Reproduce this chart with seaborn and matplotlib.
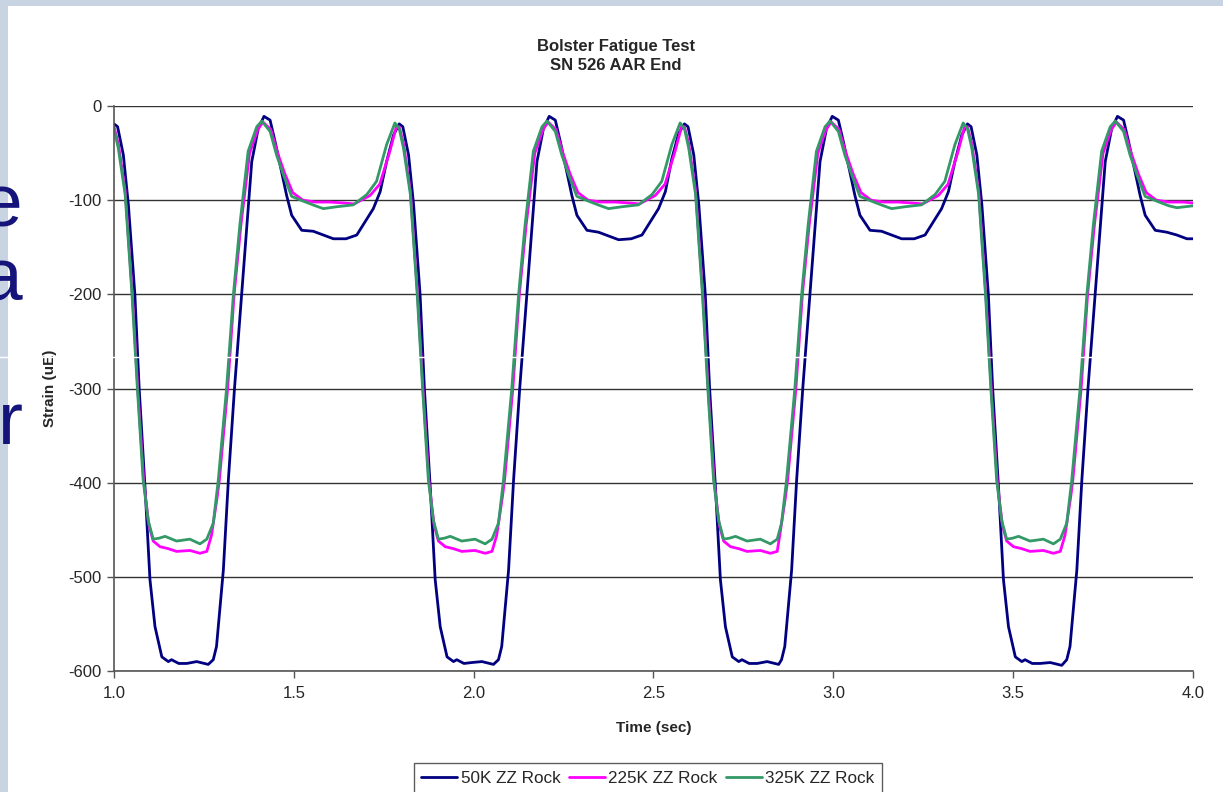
import matplotlib
matplotlib.use('Agg')
import matplotlib.pyplot as plt
import seaborn as sns
import pandas as pd
from matplotlib.patches import Rectangle
from matplotlib.lines import Line2D

# Values (time in sec, strain in uE)
t_50k = [
    1.000, 1.010, 1.026, 1.040, 1.058, 1.070, 1.087, 1.100, 1.114, 1.133, 1.151, 1.160, 1.180, 1.202, 1.230,
    1.262, 1.276, 1.285, 1.295, 1.304, 1.318, 1.335, 1.355, 1.369, 1.383, 1.401, 1.417, 1.434, 1.448, 1.466,
    1.480, 1.494, 1.522, 1.554, 1.582, 1.610, 1.645, 1.675, 1.693, 1.721, 1.740, 1.758, 1.777,
    1.793, 1.803, 1.819, 1.833, 1.851, 1.863, 1.880, 1.893, 1.907, 1.926, 1.944, 1.953, 1.973, 1.995, 2.023,
    2.055, 2.069, 2.078, 2.088, 2.097, 2.111, 2.128, 2.148, 2.162, 2.176, 2.194, 2.210, 2.227, 2.241, 2.259,
    2.273, 2.287, 2.315, 2.347, 2.375, 2.403, 2.438, 2.468, 2.486, 2.514, 2.533, 2.551, 2.570,
    2.586, 2.596, 2.612, 2.626, 2.644, 2.656, 2.673, 2.686, 2.700, 2.719, 2.737, 2.746, 2.766, 2.788, 2.816,
    2.848, 2.856, 2.865, 2.875, 2.884, 2.898, 2.915, 2.935, 2.949, 2.963, 2.981, 2.997, 3.014, 3.028, 3.046,
    3.060, 3.074, 3.102, 3.134, 3.162, 3.190, 3.225, 3.255, 3.273, 3.301, 3.320, 3.338, 3.357,
    3.373, 3.383, 3.399, 3.413, 3.431, 3.443, 3.460, 3.473, 3.487, 3.506, 3.524, 3.533, 3.553, 3.575, 3.603,
    3.635, 3.649, 3.658, 3.668, 3.677, 3.691, 3.708, 3.728, 3.742, 3.756, 3.774, 3.790, 3.807, 3.821, 3.839,
    3.853, 3.867, 3.895, 3.927, 3.955, 3.983, 4.000,
]
strain_50k = [
    -19, -22, -52, -105, -200, -300, -410, -503, -553, -585, -590, -588, -592, -592, -590,
    -593, -588, -574, -532, -493, -397, -300, -200, -130, -59, -24, -11, -15, -38, -70,
    -95, -116, -132, -133, -137, -141, -141, -137, -126, -109, -91, -59, -31,
    -19, -22, -52, -105, -200, -300, -410, -503, -553, -585, -590, -588, -592, -591, -590,
    -593, -588, -574, -532, -493, -397, -300, -200, -130, -59, -24, -11, -15, -38, -70,
    -95, -116, -132, -134, -138, -142, -141, -137, -126, -109, -91, -56, -29,
    -19, -22, -52, -105, -200, -300, -410, -503, -553, -585, -590, -588, -592, -592, -590,
    -593, -588, -574, -532, -493, -397, -300, -200, -130, -59, -24, -11, -15, -38, -70,
    -95, -116, -132, -133, -137, -141, -141, -137, -126, -109, -91, -59, -31,
    -19, -22, -52, -105, -200, -300, -410, -503, -553, -585, -590, -588, -592, -592, -591,
    -594, -588, -574, -532, -493, -397, -300, -200, -130, -59, -24, -11, -15, -38, -70,
    -95, -116, -132, -134, -137, -141, -141,
]

t_225k = [
    1.000, 1.012, 1.031, 1.051, 1.066, 1.083, 1.097, 1.109, 1.128, 1.150, 1.174, 1.211, 1.239, 1.258, 1.271,
    1.287, 1.293, 1.316, 1.334, 1.353, 1.377, 1.400, 1.414, 1.436, 1.455, 1.475, 1.497, 1.525, 1.560, 1.600,
    1.640, 1.668, 1.712, 1.739, 1.767, 1.785,
    1.793, 1.805, 1.824, 1.844, 1.859, 1.876, 1.890, 1.902, 1.921, 1.943, 1.967, 2.004, 2.032, 2.051, 2.064,
    2.080, 2.086, 2.109, 2.127, 2.146, 2.170, 2.193, 2.207, 2.229, 2.248, 2.268, 2.290, 2.318, 2.353, 2.393,
    2.433, 2.461, 2.505, 2.532, 2.560, 2.578,
    2.586, 2.598, 2.617, 2.637, 2.652, 2.669, 2.683, 2.695, 2.714, 2.736, 2.760, 2.797, 2.825, 2.844, 2.851,
    2.867, 2.873, 2.896, 2.914, 2.933, 2.957, 2.980, 2.994, 3.016, 3.035, 3.055, 3.077, 3.105, 3.140, 3.180,
    3.220, 3.248, 3.292, 3.319, 3.347, 3.365,
    3.373, 3.385, 3.404, 3.424, 3.439, 3.456, 3.470, 3.482, 3.501, 3.523, 3.547, 3.584, 3.612, 3.631, 3.644,
    3.660, 3.666, 3.689, 3.707, 3.726, 3.750, 3.773, 3.787, 3.809, 3.828, 3.848, 3.870, 3.898, 3.933, 3.973,
    4.000,
]
strain_225k = [
    -22, -40, -90, -200, -300, -400, -445, -462, -468, -470, -473, -472, -475, -473, -456,
    -415, -397, -300, -200, -126, -50, -25, -17, -25, -50, -72, -92, -100, -102, -102,
    -103, -104, -95, -83, -48, -22,
    -22, -40, -90, -200, -300, -400, -445, -462, -468, -470, -473, -472, -475, -473, -456,
    -415, -397, -300, -200, -126, -50, -25, -17, -25, -50, -72, -92, -100, -102, -102,
    -103, -104, -95, -83, -48, -22,
    -22, -40, -90, -200, -300, -400, -445, -462, -468, -470, -473, -472, -475, -473, -456,
    -415, -397, -300, -200, -126, -50, -25, -17, -25, -50, -72, -92, -100, -102, -102,
    -103, -104, -95, -83, -48, -22,
    -22, -40, -90, -200, -300, -400, -445, -462, -468, -470, -473, -472, -475, -473, -456,
    -415, -397, -300, -200, -126, -50, -25, -17, -25, -50, -72, -92, -100, -102, -102,
    -103,
]

t_325k = [
    1.000, 1.012, 1.031, 1.050, 1.065, 1.081, 1.095, 1.109, 1.125, 1.142, 1.174, 1.211, 1.239, 1.258, 1.276,
    1.290, 1.313, 1.332, 1.350, 1.373, 1.397, 1.411, 1.434, 1.452, 1.471, 1.494, 1.526, 1.560, 1.582, 1.619,
    1.665, 1.703, 1.730, 1.758, 1.781,
    1.793, 1.805, 1.824, 1.843, 1.858, 1.874, 1.888, 1.902, 1.918, 1.935, 1.967, 2.004, 2.032, 2.051, 2.069,
    2.083, 2.106, 2.125, 2.143, 2.166, 2.190, 2.204, 2.227, 2.245, 2.264, 2.287, 2.319, 2.353, 2.375, 2.412,
    2.458, 2.496, 2.523, 2.551, 2.574,
    2.586, 2.598, 2.617, 2.636, 2.651, 2.667, 2.681, 2.695, 2.711, 2.728, 2.760, 2.797, 2.825, 2.844, 2.856,
    2.870, 2.893, 2.912, 2.930, 2.953, 2.977, 2.991, 3.014, 3.032, 3.051, 3.074, 3.106, 3.140, 3.162, 3.199,
    3.245, 3.283, 3.310, 3.338, 3.361,
    3.373, 3.385, 3.404, 3.423, 3.438, 3.454, 3.468, 3.482, 3.498, 3.515, 3.547, 3.584, 3.612, 3.631, 3.649,
    3.663, 3.686, 3.705, 3.723, 3.746, 3.770, 3.784, 3.807, 3.825, 3.844, 3.867, 3.899, 3.933, 3.955, 4.000,
]
strain_325k = [
    -24, -45, -94, -200, -300, -397, -440, -460, -459, -457, -462, -460, -465, -460, -443,
    -397, -300, -200, -126, -48, -22, -16, -27, -52, -73, -96, -101, -106, -109, -107,
    -105, -94, -80, -41, -18,
    -24, -45, -94, -200, -300, -397, -440, -460, -459, -457, -462, -460, -465, -460, -443,
    -397, -300, -200, -126, -48, -22, -16, -27, -52, -73, -96, -101, -106, -109, -107,
    -105, -94, -80, -41, -18,
    -24, -45, -94, -200, -300, -397, -440, -460, -459, -457, -462, -460, -465, -460, -443,
    -397, -300, -200, -126, -48, -22, -16, -27, -52, -73, -96, -101, -106, -109, -107,
    -105, -94, -80, -41, -18,
    -24, -45, -94, -200, -300, -397, -440, -460, -459, -457, -462, -460, -465, -460, -443,
    -397, -300, -200, -126, -48, -22, -16, -27, -52, -73, -96, -101, -106, -108, -106,
]

series_names = ['50K ZZ Rock', '225K ZZ Rock', '325K ZZ Rock']
series_colors = ['#000080', '#FF00FF', '#339966']
y_ticks = [0, -100, -200, -300, -400, -500, -600]
x_ticks = [1.0, 1.5, 2.0, 2.5, 3.0, 3.5, 4.0]

df = pd.concat([
    pd.DataFrame({'Time': t_50k, 'Strain': strain_50k, 'Series': series_names[0]}),
    pd.DataFrame({'Time': t_225k, 'Strain': strain_225k, 'Series': series_names[1]}),
    pd.DataFrame({'Time': t_325k, 'Strain': strain_325k, 'Series': series_names[2]}),
], ignore_index=True)

sns.set_style('white')
plt.rcParams['font.family'] = ['Liberation Sans', 'DejaVu Sans']

fig = plt.figure(figsize=(12.23, 7.92), dpi=100)
fig.patch.set_facecolor('white')

# slide background showing around the chart
fig.patches.append(Rectangle((0, 0), 8 / 1223, 1, transform=fig.transFigure,
                             facecolor='#c9d4e3', edgecolor='none', zorder=0))
fig.patches.append(Rectangle((0, 1 - 6 / 792), 1, 6 / 792, transform=fig.transFigure,
                             facecolor='#c9d4e3', edgecolor='none', zorder=0))

ax = fig.add_axes([114 / 1223, 1 - 671 / 792, (1193 - 114) / 1223, (671 - 106) / 792])
sns.lineplot(data=df, x='Time', y='Strain', hue='Series', hue_order=series_names,
             palette=series_colors, estimator=None, linewidth=2.0, legend=False, ax=ax)

ax.set_xlim(1.0, 4.0)
ax.set_ylim(-600, 0)
ax.set_xticks(x_ticks)
ax.set_xticklabels([f'{v:.1f}' for v in x_ticks])
ax.set_yticks(y_ticks)
ax.set_yticklabels([str(v) for v in y_ticks])
ax.tick_params(axis='both', labelsize=12, length=5, width=1, color='#555555',
               direction='out', left=True, bottom=True, pad=4)
ax.tick_params(axis='x', pad=6)
ax.grid(axis='y', color='#333333', linewidth=1)
ax.grid(axis='x', visible=False)
for side in ['top', 'right']:
    ax.spines[side].set_visible(False)
for side in ['left', 'bottom']:
    ax.spines[side].set_color('#555555')
    ax.spines[side].set_linewidth(1.2)
ax.set_xlabel('Time (sec)', fontsize=11, fontweight='bold', labelpad=14)
ax.set_ylabel('Strain (uE)', fontsize=11, fontweight='bold', labelpad=8)

fig.text(616 / 1223, 1 - 47 / 792, 'Bolster Fatigue Test', ha='center', va='center',
         fontsize=12, fontweight='bold')
fig.text(616 / 1223, 1 - 66 / 792, 'SN 526 AAR End', ha='center', va='center',
         fontsize=12, fontweight='bold')

handles = [Line2D([0], [0], color=c, linewidth=2.0) for c in series_colors]
leg = fig.legend(handles, series_names, loc='upper center', bbox_to_anchor=(648 / 1223, 1 - 763 / 792),
                 ncol=3, fontsize=12.3, frameon=True, fancybox=False, edgecolor='#333333',
                 handlelength=2.1, handletextpad=0.2, columnspacing=0.5, borderpad=0.45,
                 borderaxespad=0)
leg.get_frame().set_linewidth(1.0)

# fragments of slide text peeking out on the left
for ch, yc in [('e', 207), ('a', 281), ('r', 424)]:
    fig.text(23 / 1223, 1 - yc / 792, ch, ha='right', va='center', fontsize=54,
             color='#14147a', family=['Liberation Sans', 'DejaVu Sans'])

# thin white streak across the picture
fig.lines.append(Line2D([0, 1], [1 - 357 / 792, 1 - 357 / 792], transform=fig.transFigure,
                        color='white', linewidth=1.0, zorder=10))

fig.savefig('out.png', dpi=100)
